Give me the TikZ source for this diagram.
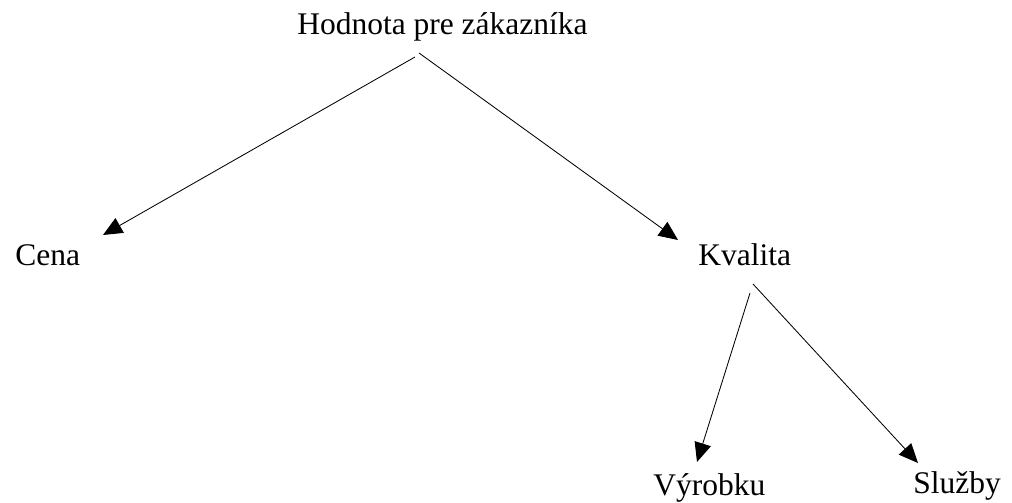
\documentclass[tikz,border=0pt]{standalone}
\usepackage{fontspec}
\setmainfont{Liberation Serif}
\usetikzlibrary{arrows.meta}
\begin{document}
\begin{tikzpicture}[x=0.025cm, y=-0.025cm,
  lbl/.style={draw=none, inner sep=0pt, anchor=base west, font=\fontsize{22.4}{27}\selectfont},
  arr/.style={-{Triangle[length=0.48cm, width=0.42cm]}, line width=0.6pt}]
\useasboundingbox (0,0) rectangle (1012,503);
\node[lbl] (hodnota) at (297,35) {Hodnota pre zákazníka};
\node[lbl] (cena) at (15,266) {Cena};
\node[lbl] (kvalita) at (698,266) {Kvalita};
\node[lbl] (vyrobku) at (653,495) {Výrobku};
\node[lbl] (sluzby) at (913,494) {Služby};
\draw[arr] ([shift={(118,22)}]hodnota.base west) -- ([shift={(88,-31)}]cena.base west);
\draw[arr] ([shift={(122,18)}]hodnota.base west) -- ([shift={(-20,-26)}]kvalita.base west);
\draw[arr] ([shift={(52,27)}]kvalita.base west) -- ([shift={(44,-33)}]vyrobku.base west);
\draw[arr] ([shift={(55,18)}]kvalita.base west) -- ([shift={(5,-31)}]sluzby.base west);
\end{tikzpicture}
\end{document}
